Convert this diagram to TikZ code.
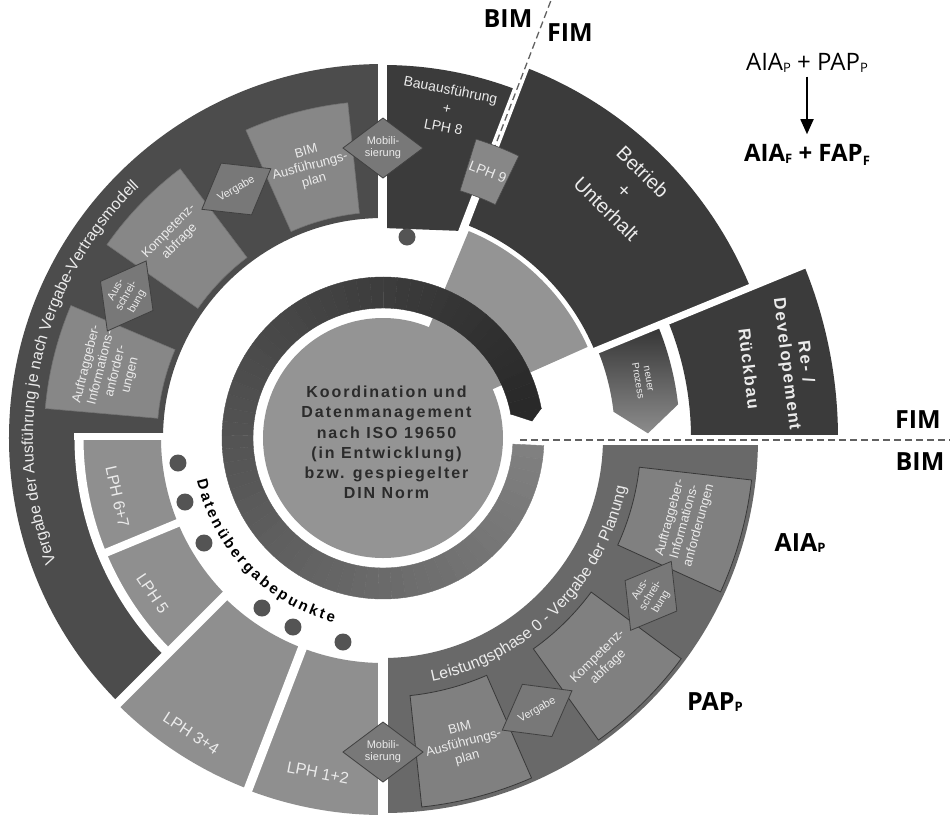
\documentclass[tikz,border=0pt]{standalone}
\usepackage{fontspec}
\setmainfont{Liberation Sans}
\newfontfamily\lab{Open Sans}
\newfontfamily\spaced[LetterSpace=12]{Liberation Sans}
\newfontfamily\spacedB[LetterSpace=9]{Liberation Sans}
\usetikzlibrary{arrows.meta,decorations.text}

\definecolor{ulband}{gray}{0.30}
\definecolor{lrband}{gray}{0.41}
\definecolor{darkseg}{gray}{0.23}
\definecolor{lphc}{gray}{0.56}
\definecolor{boxc}{gray}{0.53}
\definecolor{lrboxc}{gray}{0.50}
\definecolor{diac}{gray}{0.47}
\definecolor{corec}{gray}{0.58}
\definecolor{dotc}{gray}{0.33}
\definecolor{txtw}{gray}{0.92}
\definecolor{ctext}{gray}{0.17}

\newcommand\annsec[4]{(#1:#3pt) -- (#1:#4pt) arc[start angle=#1, end angle=#2, radius=#4pt] -- (#2:#3pt) arc[start angle=#2, end angle=#1, radius=#3pt] -- cycle}
\newcommand\lsub[1]{\raisebox{-1.5pt}{\fontsize{13}{13}\selectfont #1}}
\newcommand\diamd[5]{%
  \draw[diam, rotate=#1] (#2+30,0) -- (#2,40) -- (#2-30,0) -- (#2,-40) -- cycle;
  \node[dtext, rotate=#4] (#3) at (#1:#2pt) {#5};}

\begin{document}
\begin{tikzpicture}[x=1pt,y=1pt,
  gap/.style={draw=white, line cap=butt},
  dashl/.style={draw=black!62, line width=1.3pt, dash pattern=on 7pt off 4pt},
  tileUL/.style={fill=boxc, draw=black!55, line width=0.6pt},
  tileLR/.style={fill=lrboxc, draw=black!78, line width=0.8pt},
  diam/.style={fill=diac, draw=black!75, line width=0.8pt},
  boxt/.style={text=txtw, font=\fontsize{13}{15}\selectfont, align=center, inner sep=0pt},
  dtext/.style={text=txtw, font=\fontsize{11}{12}\selectfont, align=center, inner sep=0pt},
  segt/.style={text=txtw, font=\fontsize{16}{19}\selectfont, align=center, inner sep=0pt},
  lbl/.style={font=\lab\bfseries\fontsize{25}{25}\selectfont, inner sep=0pt},
  dotst/.style={fill=dotc}]
\useasboundingbox (-383,-377) rectangle (567,438);
\fill[white] (-383,-377) rectangle (567,438);

% light sector
\fill[corec] (0,0) -- (24:224pt) arc[start angle=24,end angle=67.5,radius=224pt] -- cycle;

% bands and segments
\fill[ulband] (90:220pt) -- (90:374pt) arc[start angle=90,end angle=225,radius=374pt] -- (225:304pt) arc[start angle=225,end angle=180,radius=304pt] -- (180:220pt) arc[start angle=180,end angle=90,radius=220pt] -- cycle;
\fill[lphc] \annsec{180}{202.5}{222}{304};
\fill[lphc] \annsec{202.5}{225}{222}{304};
\fill[lphc] \annsec{225}{249}{225}{376};
\fill[lphc] \annsec{249}{270}{225}{377};
\fill[lrband] \annsec{270}{360}{220}{375};
\fill[darkseg] \annsec{0}{22.5}{308}{455};
\shade[top color=black!80, bottom color=black!45] (22.5:232pt) -- (22.5:297pt) arc[start angle=22.5, end angle=6.5, radius=297pt] -- (1:265pt) -- (6.5:232pt) arc[start angle=6.5, end angle=22.5, radius=232pt] -- cycle;
\fill[darkseg] \annsec{22.5}{69}{229}{397};
\fill[darkseg] (0,210) -- (90:373pt) arc[start angle=90,end angle=69,radius=373pt] -- (79.5,207) -- cycle;

% white gaps
\fill[white] (-308.5,-2) rectangle (-215,5);
\draw[gap, line width=9pt] (180:304pt) arc[start angle=180,end angle=225,radius=304pt];
\draw[gap, line width=8pt] (202.5:215pt) -- (202.5:306pt);
\draw[gap, line width=9pt] (225:215pt) -- (225:380pt);
\draw[gap, line width=9pt] (249:215pt) -- (249:380pt);
\draw[gap, line width=10pt] (0,-215) -- (0,-380);
\draw[gap, line width=9pt] (-0.5,200) -- (-0.5,380);
\fill[white] (130,-7) rectangle (567,3);
\draw[gap, line width=7pt] (22.3:225pt) -- (22.3:460pt);
\draw[gap, line width=8pt] (69:200pt) -- (69:400pt);

% dashed separators
\coordinate (dA) at (69:468pt);
\coordinate (dB) at (69:312pt);
\coordinate (hA) at (137,-2);
\coordinate (hB) at (567,-2);
\draw[dashl] (dA) -- (dB);
\draw[dashl] (hA) -- (hB);

% ring with gradient
\foreach \i in {0,...,69} {
  \pgfmathsetmacro\aa{357.3-\i*4.954}
  \pgfmathsetmacro\ab{357.3-(\i+1)*4.954}
  \pgfmathsetmacro\cc{50+34*\i/69}
  \fill[black!\cc, draw=black!\cc, line width=0.4pt] \annsec{\aa}{\ab}{130}{161};
}
\fill[black!84, draw=black!84, line width=0.4pt] (10.6:161pt) -- (6.5:150pt) -- (10.6:130pt) -- cycle;

% core
\node[circle, fill=corec, minimum size=240pt, inner sep=0pt] (core) at (0,0) {};
\node[font=\spaced\bfseries\fontsize{16}{20.2}\selectfont, text=ctext, align=center, inner sep=0pt] (coretext) at (3.5,-4.5) {Koordination und\\Datenmanagement\\nach ISO 19650\\(in Entwicklung)\\bzw. gespiegelter\\DIN Norm};

% upper-left tiles
\draw[tileUL] \annsec{96}{114}{226}{337};
\draw[tileUL] \annsec{127}{145}{226}{337};
\draw[tileUL] \annsec{157}{175}{226}{339};
\node[boxt, rotate=15] (ulbim) at (105:281pt) {BIM\\Ausführungs-\\plan};
\node[boxt, rotate=46] (ulkomp) at (136:290pt) {Kompetenz-\\abfrage};
\node[boxt, rotate=76] (ulaia) at (166:283pt) {Auftraggeber-\\Informations-\\anforder-\\ungen};
\diamd{90}{290}{ulmob}{0}{Mobili-\\sierung}
\diamd{120.5}{289}{ulverg}{30.5}{Vergabe}
\diamd{151}{293}{ulaus}{61}{Aus-\\schrei-\\bung}

% lower-right tiles
\draw[tileLR] \annsec{-84}{-66.4}{259}{371};
\draw[tileLR] \annsec{-54.5}{-36.5}{259}{371};
\draw[tileLR] \annsec{-24.5}{-6.5}{258}{371};
\node[boxt, rotate=14.8] (lrbim) at (-75.2:316pt) {BIM\\Ausführungs-\\plan};
\node[boxt, rotate=44.5] (lrkomp) at (-45.5:314pt) {Kompetenz-\\abfrage};
\node[boxt, rotate=74.5] (lraia) at (-15.5:313pt) {Auftraggeber-\\Informations-\\anforderungen};
\diamd{-90}{314}{lrmob}{0}{Mobili-\\sierung}
\diamd{-60.5}{313}{lrverg}{29.5}{Vergabe}
\diamd{-30.5}{311}{lraus}{59.5}{Aus-\\schrei-\\bung}

% LPH 9
\draw[tileUL, draw=black!70] \annsec{64.3}{72.7}{259}{313};
\node[boxt, font=\fontsize{14}{15}\selectfont, rotate=-21.5] (lph9) at (68.5:286pt) {LPH 9};

% segment texts
\node[segt, rotate=-77.5] (lph67) at (192.5:272pt) {LPH 6+7};
\node[segt, rotate=-56] (lph5) at (214:278pt) {LPH 5};
\node[segt, rotate=-33] (lph34) at (237:352pt) {LPH 3+4};
\node[segt, rotate=-11] (lph12) at (259:341pt) {LPH 1+2};
\node[segt, font=\fontsize{14}{19}\selectfont, rotate=-11] (bau) at (79:336pt) {Bauausführung\\+\\LPH 8};
\node[segt, font=\fontsize{20}{26}\selectfont, rotate=-44.3] (betr) at (45.7:346pt) {Betrieb\\+\\Unterhalt};
\node[text=txtw, font=\spacedB\bfseries\fontsize{17}{19}\selectfont, rotate=-83, align=center, inner sep=0pt] (redev) at (395,73) {Re- /\\Developement\\[20pt]Rückbau};
\node[text=txtw, font=\fontsize{10}{11}\selectfont, rotate=-80, align=center, inner sep=0pt] (neu) at (260,58) {neuer\\Prozess};

% arc texts
\path[decorate, decoration={text along path, text color=txtw, text={|\fontsize{16}{16}\selectfont|Vergabe der Ausführung je nach Vergabe-Vertragsmodell}, text align=center}] (215:350pt) arc[start angle=215, end angle=120, radius=350pt];
\path[decorate, decoration={text along path, text color=txtw, text={|\fontsize{16}{16}\selectfont|Leistungsphase 0 - Vergabe der Planung}, text align=center}] (-100:248pt) arc[start angle=-100, end angle=10, radius=248pt];
\path[decorate, decoration={text along path, text color=black, text={|\bfseries\fontsize{15}{15}\selectfont|Datenübergabepunkte}, text align=fit to path}] (193:191pt) arc[start angle=193, end angle=255, radius=191pt];

% dots
\fill[dotst] (-205,-25) circle[radius=8.5pt];
\fill[dotst] (-198,-64) circle[radius=8.5pt];
\fill[dotst] (-179,-105) circle[radius=8.5pt];
\fill[dotst] (-121,-170) circle[radius=8.5pt];
\fill[dotst] (-90,-189) circle[radius=8.5pt];
\fill[dotst] (-40,-204) circle[radius=8.5pt];
\fill[dotst] (24,201) circle[radius=8.5pt];

% labels
\node[lbl] (bimT) at (125,419) {BIM};
\node[lbl] (fimT) at (187,405) {FIM};
\node[lbl] (fimR) at (535,18) {FIM};
\node[lbl] (bimR) at (537,-24) {BIM};
\node[lbl] (aiaR) at (417,-105) {AIA\lsub{P}};
\node[lbl] (papR) at (332,-264) {PAP\lsub{P}};
\node[font=\lab\fontsize{24}{24}\selectfont, inner sep=0pt] (f1) at (424,375) {AIA\lsub{P} + PAP\lsub{P}};
\node[font=\lab\bfseries\fontsize{24}{24}\selectfont, inner sep=0pt] (f2) at (424,283) {AIA\lsub{F} + FAP\raisebox{-4pt}{\fontsize{13}{13}\selectfont F}};
\draw[-{Triangle[length=15pt,width=13pt]}, line width=1.8pt, shorten <=4pt, shorten >=10pt] (f1.south) -- (f2.north);
\end{tikzpicture}
\end{document}
